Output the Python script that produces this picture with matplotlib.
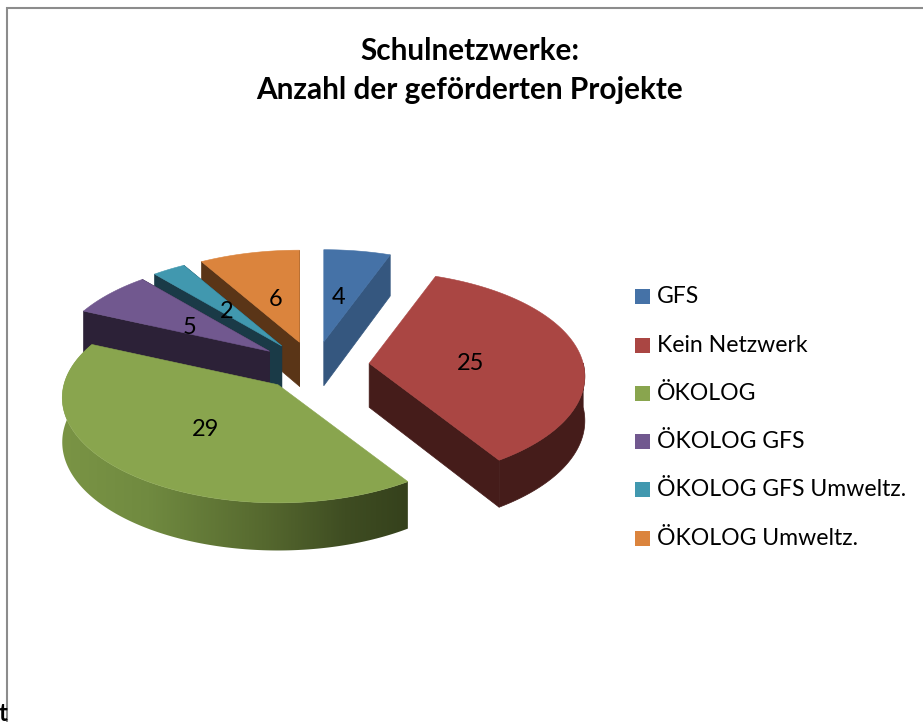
import numpy as np
import matplotlib
matplotlib.use("Agg")
import matplotlib.pyplot as plt
from matplotlib.colors import LinearSegmentedColormap
from matplotlib.patches import Polygon, Rectangle

categories = ["GFS", "Kein Netzwerk", "ÖKOLOG", "ÖKOLOG GFS", "ÖKOLOG GFS Umweltz.", "ÖKOLOG Umweltz."]
values = [4, 25, 29, 5, 2, 6]
top_colors = ["#4572A7", "#AA4643", "#89A54E", "#71588F", "#4198AF", "#DB843D"]
wall_colors = ["#35577F", "#451C1A", "#6A8039", "#2C2137", "#1A3A47", "#5A3517"]
title_lines = ["Schulnetzwerke:", "Anzahl der geförderten Projekte"]

W, H = 923, 722
CX, CY = 314, 366        # pie centre in pixels
RX, RY = 214, 103.5      # radii of the tilted disc
K = 0.124                # perspective strength
EX, EY = 55.5, 24.6      # explosion distance
DEPTH = 44

plt.rcParams["font.family"] = ["Lato", "DejaVu Sans"]
fig = plt.figure(figsize=(W / 100, H / 100), dpi=100, facecolor="white")
ax = fig.add_axes([0, 0, 1, 1])
ax.set_xlim(0, W)
ax.set_ylim(H, 0)
ax.axis("off")

total = sum(values)
edges = np.concatenate([[0], np.cumsum(values)]) / total * 2 * np.pi


def project(theta, apex):
    s = 1 / (1 + K * np.cos(theta))
    return apex[0] + RX * np.sin(theta) * s, apex[1] - RY * np.cos(theta) * s, s


def bottom(y, s):
    return y + DEPTH * s ** 0.6


def wedge(i):
    a0, a1 = edges[i], edges[i + 1]
    mid = (a0 + a1) / 2
    apex = (CX + EX * np.sin(mid), CY - EY * np.cos(mid))
    return a0, a1, mid, apex


def draw_radial_wall(apex, theta, color, z):
    x, y, s = project(theta, apex)
    pts = [apex, (x, y), (x, bottom(y, s)), (apex[0], bottom(apex[1], 1))]
    ax.add_patch(Polygon(pts, closed=True, fc=color, ec=color, lw=0.5, zorder=z))


green_cmap = LinearSegmentedColormap.from_list(
    "g", [(0, "#7A9445"), (0.25, "#708A40"), (0.58, "#56692F"), (0.82, "#3F4D22"), (1, "#35411C")])


def draw_arc_wall(apex, t0, t1, color, z, gradient=False):
    th = np.linspace(t0, t1, 200)
    x, y, s = project(th, apex)
    yb = bottom(y, s)
    pts = list(zip(x, y)) + list(zip(x[::-1], yb[::-1]))
    if gradient:
        poly = Polygon(pts, closed=True, fc="none", ec="none", zorder=z)
        ax.add_patch(poly)
        grad = np.linspace(0, 1, 400).reshape(1, -1)
        im = ax.imshow(grad, cmap=green_cmap, aspect="auto", zorder=z,
                       extent=(x.min(), x.max(), yb.max() + 2, y.min() - 2))
        im.set_clip_path(poly)
    else:
        ax.add_patch(Polygon(pts, closed=True, fc=color, ec=color, lw=0.5, zorder=z))


def draw_top(i, z):
    a0, a1, mid, apex = wedge(i)
    th = np.linspace(a0, a1, 160)
    x, y, _ = project(th, apex)
    pts = [apex] + list(zip(x, y))
    ax.add_patch(Polygon(pts, closed=True, fc=top_colors[i], ec=top_colors[i], lw=0.4, zorder=z))


# back-to-front painting
order = [0, 5, 4, 3, 1, 2]
for n, i in enumerate(order):
    a0, a1, mid, apex = wedge(i)
    z = 2 + n * 2
    if i == 0:
        draw_radial_wall(apex, a1, wall_colors[i], z)
    if i in (5, 4, 3):
        draw_radial_wall(apex, a0, wall_colors[i], z)
        draw_radial_wall(apex, a1, wall_colors[i], z)
    if i == 1:
        draw_radial_wall(apex, a1, wall_colors[i], z)
        draw_arc_wall(apex, np.pi / 2, a1, wall_colors[i], z)
    if i == 2:
        draw_arc_wall(apex, a0, a1, wall_colors[i], z, gradient=True)
    draw_top(i, z + 1)

ax.set_xlim(0, W)
ax.set_ylim(H, 0)

# data labels
label_pos = [(339, 298), (471, 363), (206, 429), (190, 327), (227, 312), (276, 299)]
for v, (lx, ly) in zip(values, label_pos):
    ax.text(lx, ly, str(v), fontsize=17, ha="center", va="center", color="black", zorder=30)

# title
ax.text(470, 51, title_lines[0], fontsize=21.4, fontweight="bold", ha="center", va="center", zorder=30)
ax.text(470, 90, title_lines[1], fontsize=21.4, fontweight="bold", ha="center", va="center", zorder=30)

# legend
leg_y = [296, 345, 393, 441, 489, 538]
for c, t, y in zip(top_colors, categories, leg_y):
    ax.add_patch(Rectangle((635, y - 7.5), 15, 15, fc=c, ec="none", zorder=30))
    ax.text(657, y + 7, t, fontsize=16.6, ha="left", va="baseline", color="black", zorder=30)

# frame: only top and left edges are visible in the crop
ax.plot([7, 7], [6.5, H], color="#8C8C8C", lw=1.5, zorder=1, solid_capstyle="butt")
ax.plot([6, W], [7.5, 7.5], color="#8C8C8C", lw=1.5, zorder=1, solid_capstyle="butt")

# stray clipped letter at the lower-left corner
ax.text(-1, H + 3, "t", fontsize=17, fontweight="bold", ha="left", va="bottom", zorder=30)

fig.savefig("out.png", dpi=100)
